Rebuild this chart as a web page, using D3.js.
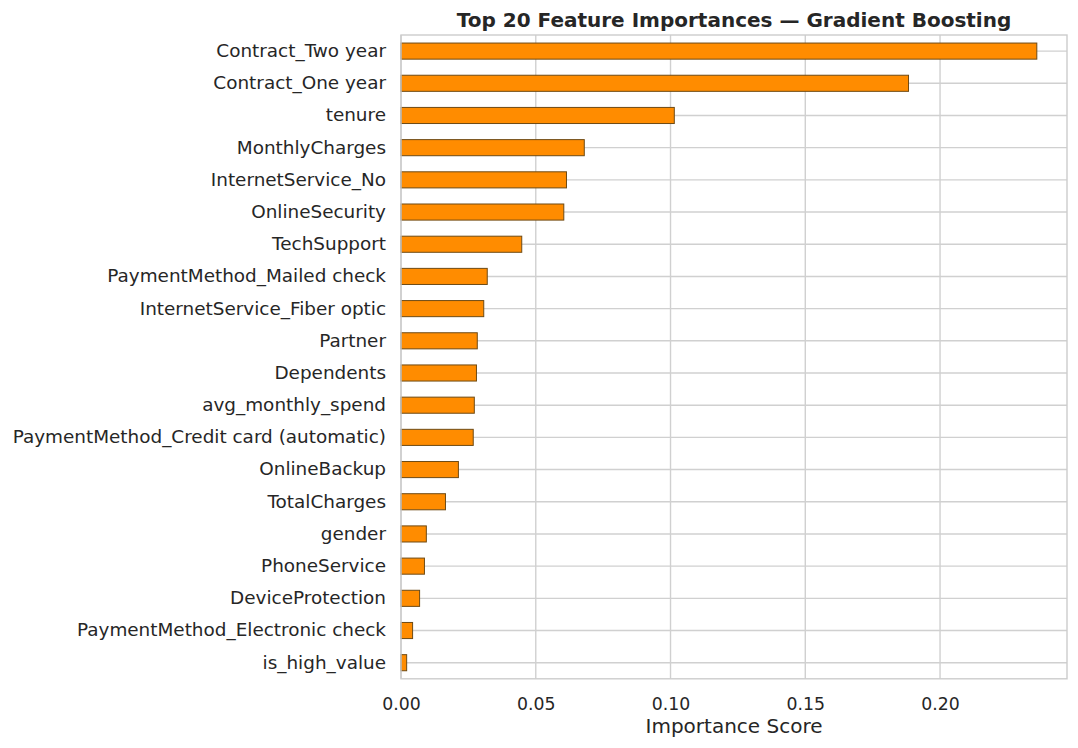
<!DOCTYPE html>
<html>
<head>
<meta charset="utf-8">
<script src="https://cdn.jsdelivr.net/npm/d3@7"></script>
<style>
  body { margin: 0; background: #fff; }
  text { font-family: "DejaVu Sans", sans-serif; fill: #262626; }
</style>
</head>
<body>
<div class="chart"></div>
<script>
// feature names, top to bottom
var features = [
  "Contract_Two year", "Contract_One year", "tenure", "MonthlyCharges",
  "InternetService_No", "OnlineSecurity", "TechSupport",
  "PaymentMethod_Mailed check", "InternetService_Fiber optic", "Partner",
  "Dependents", "avg_monthly_spend", "PaymentMethod_Credit card (automatic)",
  "OnlineBackup", "TotalCharges", "gender", "PhoneService",
  "DeviceProtection", "PaymentMethod_Electronic check", "is_high_value"
];

// importance scores
var importances = [
  0.2359, 0.1883, 0.1014, 0.0680, 0.0614, 0.0604, 0.0448, 0.0320,
  0.0307, 0.0283, 0.0280, 0.0272, 0.0268, 0.0213, 0.0165, 0.0094,
  0.0087, 0.0069, 0.0043, 0.0021
];

var xTicks = [0.00, 0.05, 0.10, 0.15, 0.20];

var svgWidth = 1078;
var svgHeight = 748;

var margin = { top: 35, bottom: 69.2, right: 11, left: 401 };
var width = svgWidth - margin.left - margin.right;
var height = svgHeight - margin.top - margin.bottom;

var svg = d3.select(".chart")
  .append("svg")
  .attr("width", svgWidth)
  .attr("height", svgHeight);

var chartGroup = svg.append("g")
  .attr("transform", `translate(${margin.left}, ${margin.top})`);

var data = features.map((f, i) => ({ name: f, value: importances[i] }));

// scales
var xScale = d3.scaleLinear()
  .domain([0, 0.2471])
  .range([0, width]);

var yScale = d3.scaleBand()
  .domain(features)
  .range([0, height])
  .paddingInner(0.5)
  .paddingOuter(0.25);

// grid lines
chartGroup.append("g")
  .selectAll("line.vgrid")
  .data(xTicks)
  .enter()
  .append("line")
  .attr("x1", d => xScale(d))
  .attr("x2", d => xScale(d))
  .attr("y1", 0)
  .attr("y2", height)
  .attr("stroke", "#d0d0d0")
  .attr("stroke-width", 1.4);

chartGroup.append("g")
  .selectAll("line.hgrid")
  .data(features)
  .enter()
  .append("line")
  .attr("x1", 0)
  .attr("x2", width)
  .attr("y1", d => yScale(d) + yScale.bandwidth() / 2)
  .attr("y2", d => yScale(d) + yScale.bandwidth() / 2)
  .attr("stroke", "#d0d0d0")
  .attr("stroke-width", 1.4);

// bars
chartGroup.selectAll("rect.bar")
  .data(data)
  .enter()
  .append("rect")
  .attr("class", "bar")
  .attr("x", xScale(0))
  .attr("y", d => yScale(d.name))
  .attr("width", d => xScale(d.value))
  .attr("height", yScale.bandwidth())
  .attr("fill", "#ff8c00")
  .attr("stroke", "#6e4a14")
  .attr("stroke-width", 1);

// frame
chartGroup.append("rect")
  .attr("x", 0)
  .attr("y", 0)
  .attr("width", width)
  .attr("height", height)
  .attr("fill", "none")
  .attr("stroke", "#cccccc")
  .attr("stroke-width", 1.4);

// axes
var xAxis = d3.axisBottom(xScale)
  .tickValues(xTicks)
  .tickFormat(d3.format(".2f"))
  .tickSize(0)
  .tickPadding(19);

var xAxisG = chartGroup.append("g")
  .attr("transform", `translate(0, ${height})`)
  .call(xAxis);
xAxisG.select(".domain").remove();
xAxisG.selectAll("text")
  .style("font-size", "17.3px")
  .attr("fill", "#262626");

var yAxis = d3.axisLeft(yScale)
  .tickSize(0)
  .tickPadding(15);

var yAxisG = chartGroup.append("g").call(yAxis);
yAxisG.select(".domain").remove();
yAxisG.selectAll("text")
  .style("font-size", "18.4px")
  .attr("fill", "#262626");

// X-axis label
chartGroup.append("text")
  .attr("x", width / 2)
  .attr("y", height + 54)
  .attr("text-anchor", "middle")
  .style("font-size", "20px")
  .text("Importance Score");

// title
chartGroup.append("text")
  .attr("x", width / 2)
  .attr("y", -8.5)
  .attr("text-anchor", "middle")
  .style("font-size", "20px")
  .style("font-weight", "bold")
  .text("Top 20 Feature Importances — Gradient Boosting");
</script>
</body>
</html>
